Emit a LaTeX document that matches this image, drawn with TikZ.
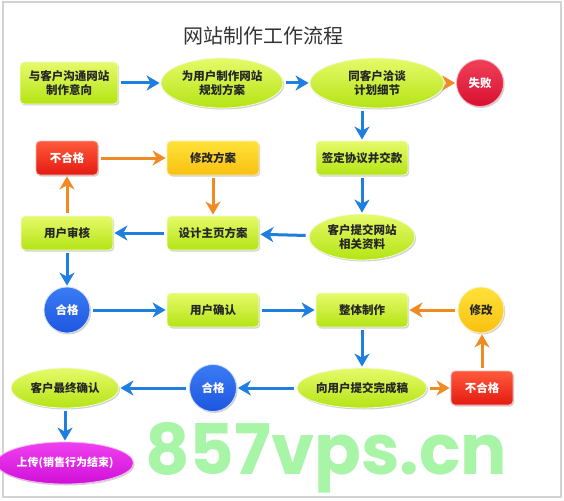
\documentclass[tikz,border=0pt]{standalone}
\usepackage{fontspec}
\usepackage{graphicx}
\setmainfont{Noto Sans CJK SC}
\newfontfamily\wmfont{Poppins}
\usetikzlibrary{shapes.geometric,shadows,arrows.meta}
\definecolor{gtop}{HTML}{E6FA6A}
\definecolor{gbot}{HTML}{B4E414}
\definecolor{rtop}{HTML}{FF5A3A}
\definecolor{rbot}{HTML}{E41A12}
\definecolor{ytop}{HTML}{FFE23A}
\definecolor{ybot}{HTML}{F8C010}
\definecolor{btop}{HTML}{3A7CF4}
\definecolor{bbot}{HTML}{1E56E0}
\definecolor{ftop}{HTML}{F0405A}
\definecolor{fbot}{HTML}{D81030}
\definecolor{mtop}{HTML}{F040F0}
\definecolor{mbot}{HTML}{D010D8}
\definecolor{arrblue}{HTML}{1F7FE0}
\definecolor{arrorange}{HTML}{F08A22}
\definecolor{wmgreen}{HTML}{A8F5A8}
\definecolor{txtdark}{HTML}{262626}
\tikzset{
  base/.style={font=\bfseries\fontsize{11.5}{14}\selectfont, align=center, inner sep=1pt,
    drop shadow={opacity=0.35, shadow xshift=1.2pt, shadow yshift=-1.5pt}},
  greenbox/.style={base, rectangle, rounded corners=4pt, minimum width=92pt, minimum height=34pt,
    top color=gtop, bottom color=gbot, draw=white!85!gbot, line width=0.8pt, text=txtdark},
  greenell/.style={base, ellipse, inner sep=0pt, top color=gtop, bottom color=gbot,
    draw=white!85!gbot, line width=0.8pt, text=txtdark},
  redbox/.style={base, rectangle, rounded corners=4pt, minimum width=62pt, minimum height=34pt,
    top color=rtop, bottom color=rbot, draw=white!70!rbot, line width=0.8pt, text=white},
  yellowbox/.style={base, rectangle, rounded corners=4pt, minimum width=92pt, minimum height=34pt,
    top color=ytop, bottom color=ybot, draw=white!70!ybot, line width=0.8pt, text=txtdark},
  bluecirc/.style={base, circle, minimum size=46pt, top color=btop, bottom color=bbot,
    draw=white!80!bbot, line width=0.8pt, text=white},
  yellowcirc/.style={base, circle, minimum size=46pt, top color=ytop, bottom color=ybot,
    draw=white!80!ybot, line width=0.8pt, text=txtdark},
  failcirc/.style={base, circle, minimum size=47pt, top color=ftop, bottom color=fbot,
    draw=white!70!fbot, line width=0.8pt, text=white},
  magell/.style={base, ellipse, inner sep=0pt, top color=mtop, bottom color=mbot,
    draw=white!70!mbot, line width=0.8pt, text=white},
  barrow/.style={draw=arrblue, line width=3pt, -{Stealth[length=13pt, width=15pt, inset=4pt]},
    shorten <=3pt, shorten >=1pt},
  oarrow/.style={draw=arrorange, line width=3pt, -{Stealth[length=13pt, width=15pt, inset=4pt]},
    shorten <=3pt, shorten >=1pt},
}
\begin{document}
\begin{tikzpicture}[x=1pt,y=-1pt]
\useasboundingbox (0,0) rectangle (564,500);
\fill[white] (0,0) rectangle (564,500);
\draw[gray!35, line width=1.5pt] (3,2) rectangle (561,497);

% watermark
\node[anchor=base west, inner sep=0pt, text=wmgreen] (wm) at (145,474)
  {\resizebox{362pt}{52pt}{\wmfont\bfseries 857vps.cn}};

% title
\node[font=\fontsize{20}{24}\selectfont, text=black!80] (title) at (263,36) {网站制作工作流程};

% row 1
\node[greenbox, minimum width=98pt, minimum height=42pt] (n1) at (69,83) {与客户沟通网站\\制作意向};
\node[greenell, minimum width=122pt, minimum height=50pt] (n2) at (222,83) {为用户制作网站\\规划方案};
\node[greenell, minimum width=134pt, minimum height=50pt] (n3) at (377,83) {同客户洽谈\\计划细节};
\node[failcirc] (fail) at (480,83) {失败};

% row 2
\node[redbox] (nq1) at (67,158) {不合格};
\node[yellowbox] (xg) at (213,158) {修改方案};
\node[greenbox] (qd) at (362,158) {签定协议并交款};

% row 3
\node[greenbox] (sh) at (67,233) {用户审核};
\node[greenbox] (sj) at (213,233) {设计主页方案};
\node[greenell, minimum width=106pt, minimum height=46pt] (tj) at (362,237) {客户提交网站\\相关资料};

% row 4
\node[bluecirc] (hg1) at (67,310) {合格};
\node[greenbox] (qr) at (213,310) {用户确认};
\node[greenbox] (zt) at (362,310) {整体制作};
\node[yellowcirc] (xg2) at (481,310) {修改};

% row 5
\node[greenell, minimum width=108pt, minimum height=40pt] (zz) at (65,388) {客户最终确认};
\node[bluecirc, minimum size=47pt] (hg2) at (213,388) {合格};
\node[greenell, minimum width=108pt, minimum height=40pt] (wc) at (362,388) {向用户提交完成稿};
\node[redbox] (nq2) at (482,388) {不合格};

% row 6
\node[magell, minimum width=108pt, minimum height=42pt, font=\bfseries\fontsize{11}{13}\selectfont] (sc) at (65,463) {上传(销售行为结束)};

% connectors
\draw[barrow] (n1) -- (n2);
\draw[barrow] (n2) -- (n3);
\draw[oarrow] (n3) -- (fail);
\draw[barrow] (qd.north |- n3.south) -- (qd.north);
\draw[barrow] (qd) -- (tj);
\draw[barrow] (tj) -- (sj);
\draw[barrow] (sj) -- (sh);
\draw[oarrow] (sh) -- (nq1);
\draw[oarrow] (nq1) -- (xg);
\draw[oarrow] (xg) -- (sj);
\draw[barrow] (sh) -- (hg1);
\draw[barrow] (hg1) -- (qr);
\draw[barrow] (qr) -- (zt);
\draw[oarrow] (xg2) -- (zt);
\draw[barrow] (zt) -- (wc);
\draw[oarrow] (wc) -- (nq2);
\draw[oarrow] (nq2.north) -- (nq2.north |- xg2.south);
\draw[barrow] (wc) -- (hg2);
\draw[barrow] (hg2) -- (zz);
\draw[barrow] (zz) -- (sc);
\end{tikzpicture}
\end{document}
